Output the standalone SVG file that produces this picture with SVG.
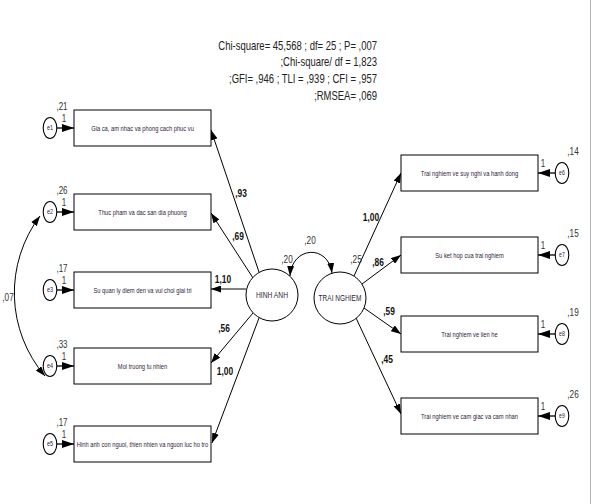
<svg xmlns="http://www.w3.org/2000/svg" width="592" height="504" viewBox="0 0 592 504">
<defs>
<style>
.bg{fill:#fff}
.box{fill:#fff;stroke:#000;stroke-width:1}
.lat{fill:#fff;stroke:#000;stroke-width:1}
.err{fill:#fff;stroke:#000;stroke-width:1.1}
.ln{fill:none;stroke:#000;stroke-width:1;marker-end:url(#ah)}
.eln{fill:none;stroke:#000;stroke-width:1.3;marker-end:url(#ah2)}
.cov{fill:none;stroke:#000;stroke-width:1;marker-start:url(#ah);marker-end:url(#ah)}
.bt{font-family:"Liberation Sans",Arial,sans-serif;font-size:7.3px;fill:#2e2238;text-anchor:middle}
.ct{font-family:"Liberation Sans",Arial,sans-serif;font-size:8.6px;fill:#2e2238;text-anchor:middle}
.et{font-family:"Liberation Sans",Arial,sans-serif;font-size:6.5px;fill:#2e2238;text-anchor:middle}
.vt{font-family:"Liberation Sans",Arial,sans-serif;font-size:10.5px;fill:#333;text-anchor:middle}
.st{font-family:"Liberation Sans",Arial,sans-serif;font-size:10px;fill:#333;text-anchor:middle}
.wt{font-family:"Liberation Sans",Arial,sans-serif;font-size:10.5px;font-weight:bold;fill:#111;text-anchor:middle}
.ht{font-family:"Liberation Sans",Arial,sans-serif;font-size:12px;fill:#222;text-anchor:end}
</style>
<marker id="ah" viewBox="0 0 10 7" refX="10" refY="3.5" markerWidth="10" markerHeight="7" markerUnits="userSpaceOnUse" orient="auto-start-reverse"><path d="M0,0 L10,3.5 L0,7 z" fill="#000"/></marker>
<marker id="ah2" viewBox="0 0 12 8" refX="12" refY="4" markerWidth="12" markerHeight="8" markerUnits="userSpaceOnUse" orient="auto"><path d="M0,0 L12,4 L0,8 z" fill="#000"/></marker>
</defs>
<rect class="bg" x="0" y="0" width="592" height="504"/>
<line x1="590.5" y1="0" x2="590.5" y2="504" stroke="#b4b4b4" stroke-width="1"/>

<g id="header">
<text class="ht" transform="translate(377,50) scale(0.79,1)">Chi-square= 45,568 ; df= 25 ; P= ,007</text>
<text class="ht" transform="translate(377,66) scale(0.79,1)">;Chi-square/ df = 1,823</text>
<text class="ht" transform="translate(377,83) scale(0.79,1)">;GFI= ,946 ; TLI = ,939 ; CFI = ,957</text>
<text class="ht" transform="translate(377,100) scale(0.79,1)">;RMSEA= ,069</text>
</g>

<g id="connectors">
<line class="ln" x1="259" y1="272" x2="211" y2="130"/>
<line class="ln" x1="253" y1="278" x2="211" y2="213"/>
<line class="ln" x1="246" y1="289" x2="211" y2="289"/>
<line class="ln" x1="253" y1="313" x2="211" y2="363"/>
<line class="ln" x1="259" y1="318" x2="212" y2="443"/>
<line class="ln" x1="354" y1="276" x2="401" y2="173"/>
<line class="ln" x1="362" y1="284" x2="401" y2="255"/>
<line class="ln" x1="364" y1="308" x2="401" y2="334"/>
<line class="ln" x1="356" y1="318" x2="401" y2="414"/>
<path class="cov" d="M290,276 C292,246 328,244 332,273"/>
<path class="cov" d="M45,376 A128,128 0 0 1 40,216"/>
<line class="eln" x1="56.5" y1="128" x2="74" y2="128"/>
<line class="eln" x1="56.5" y1="212" x2="74" y2="212"/>
<line class="eln" x1="56.5" y1="290" x2="74" y2="290"/>
<line class="eln" x1="56.5" y1="366" x2="74" y2="366"/>
<line class="eln" x1="56.5" y1="444" x2="74" y2="444"/>
<line class="eln" x1="555.5" y1="173" x2="538" y2="173"/>
<line class="eln" x1="555.5" y1="255" x2="538" y2="255"/>
<line class="eln" x1="555.5" y1="334" x2="538" y2="334"/>
<line class="eln" x1="555.5" y1="416" x2="538" y2="416"/>
<text class="wt" transform="translate(241,197) scale(0.8,1)">,93</text>
<text class="wt" transform="translate(238,240) scale(0.8,1)">,69</text>
<text class="wt" transform="translate(223,283) scale(0.8,1)">1,10</text>
<text class="wt" transform="translate(224,332) scale(0.8,1)">,56</text>
<text class="wt" transform="translate(225,375) scale(0.8,1)">1,00</text>
<text class="wt" transform="translate(371,221) scale(0.8,1)">1,00</text>
<text class="wt" transform="translate(378,266) scale(0.8,1)">,86</text>
<text class="wt" transform="translate(389,315) scale(0.8,1)">,59</text>
<text class="wt" transform="translate(387,363) scale(0.8,1)">,45</text>
<text class="vt" transform="translate(310,244) scale(0.78,1)">,20</text>
<text class="vt" transform="translate(8,301) scale(0.78,1)">,07</text>
<text class="st" transform="translate(64,121.5) scale(0.8,1)">1</text>
<text class="st" transform="translate(64,205.5) scale(0.8,1)">1</text>
<text class="st" transform="translate(64,283.5) scale(0.8,1)">1</text>
<text class="st" transform="translate(64,359.5) scale(0.8,1)">1</text>
<text class="st" transform="translate(64,437.5) scale(0.8,1)">1</text>
<text class="st" transform="translate(543,166.5) scale(0.8,1)">1</text>
<text class="st" transform="translate(543,248.5) scale(0.8,1)">1</text>
<text class="st" transform="translate(543,327.5) scale(0.8,1)">1</text>
<text class="st" transform="translate(543,409.5) scale(0.8,1)">1</text>
</g>

<g id="hinh-anh">
<circle class="lat" cx="272" cy="295" r="26"/>
<text class="ct" transform="translate(272,298) scale(0.78,1)">HINH ANH</text>
<text class="vt" transform="translate(287,263) scale(0.78,1)">,20</text>
</g>
<g id="trai-nghiem">
<circle class="lat" cx="340" cy="298" r="26"/>
<text class="ct" transform="translate(340,301) scale(0.76,1)">TRAI NGHIEM</text>
<text class="vt" transform="translate(356,263) scale(0.78,1)">,25</text>
</g>

<g id="box-gia-ca">
<rect class="box" x="74" y="110" width="137" height="36"/>
<text class="bt" transform="translate(142.5,130.5) scale(0.79,1)">Gia ca, am nhac va phong cach phuc vu</text>
</g>
<g id="box-thuc-pham">
<rect class="box" x="74" y="194" width="137" height="36"/>
<text class="bt" transform="translate(142.5,214.5) scale(0.79,1)">Thuc pham va dac san dia phuong</text>
</g>
<g id="box-su-quan-ly">
<rect class="box" x="74" y="272" width="137" height="36"/>
<text class="bt" transform="translate(142.5,292.5) scale(0.79,1)">Su quan ly diem den va vui choi giai tri</text>
</g>
<g id="box-moi-truong">
<rect class="box" x="74" y="348" width="137" height="36"/>
<text class="bt" transform="translate(142.5,368.5) scale(0.79,1)">Moi truong tu nhien</text>
</g>
<g id="box-hinh-anh-con-nguoi">
<rect class="box" x="74" y="426" width="137" height="36"/>
<text class="bt" transform="translate(142.5,446.5) scale(0.79,1)">Hinh anh con nguoi, thien nhien va nguon luc ho tro</text>
</g>

<g id="box-suy-nghi">
<rect class="box" x="401" y="155" width="137" height="36"/>
<text class="bt" transform="translate(469.5,175.5) scale(0.79,1)">Trai nghiem ve suy nghi va hanh dong</text>
</g>
<g id="box-ket-hop">
<rect class="box" x="401" y="237" width="137" height="36"/>
<text class="bt" transform="translate(469.5,257.5) scale(0.79,1)">Su ket hop cua trai nghiem</text>
</g>
<g id="box-lien-he">
<rect class="box" x="401" y="316" width="137" height="36"/>
<text class="bt" transform="translate(469.5,336.5) scale(0.79,1)">Trai nghiem ve lien he</text>
</g>
<g id="box-cam-giac">
<rect class="box" x="401" y="398" width="137" height="36"/>
<text class="bt" transform="translate(469.5,418.5) scale(0.79,1)">Trai nghiem ve cam giac va cam nhan</text>
</g>

<g id="e1"><ellipse class="err" cx="50" cy="128" rx="6.8" ry="10.5"/><text class="et" transform="translate(50,130.3) scale(0.85,1)">e1</text><text class="st" transform="translate(62,109.5) scale(0.8,1)">,21</text></g>
<g id="e2"><ellipse class="err" cx="50" cy="212" rx="6.8" ry="10.5"/><text class="et" transform="translate(50,214.3) scale(0.85,1)">e2</text><text class="st" transform="translate(62,193.5) scale(0.8,1)">,26</text></g>
<g id="e3"><ellipse class="err" cx="50" cy="290" rx="6.8" ry="10.5"/><text class="et" transform="translate(50,292.3) scale(0.85,1)">e3</text><text class="st" transform="translate(62,271.5) scale(0.8,1)">,17</text></g>
<g id="e4"><ellipse class="err" cx="50" cy="366" rx="6.8" ry="10.5"/><text class="et" transform="translate(50,368.3) scale(0.85,1)">e4</text><text class="st" transform="translate(62,347.5) scale(0.8,1)">,33</text></g>
<g id="e5"><ellipse class="err" cx="50" cy="444" rx="6.8" ry="10.5"/><text class="et" transform="translate(50,446.3) scale(0.85,1)">e5</text><text class="st" transform="translate(62,425.5) scale(0.8,1)">,17</text></g>
<g id="e6"><ellipse class="err" cx="562" cy="173" rx="6.8" ry="10.5"/><text class="et" transform="translate(562,175.3) scale(0.8,1)">e6</text><text class="vt" transform="translate(573,155) scale(0.78,1)">,14</text></g>
<g id="e7"><ellipse class="err" cx="562" cy="255" rx="6.8" ry="10.5"/><text class="et" transform="translate(562,257.3) scale(0.8,1)">e7</text><text class="vt" transform="translate(573,237) scale(0.78,1)">,15</text></g>
<g id="e8"><ellipse class="err" cx="562" cy="334" rx="6.8" ry="10.5"/><text class="et" transform="translate(562,336.3) scale(0.8,1)">e8</text><text class="vt" transform="translate(573,316) scale(0.78,1)">,19</text></g>
<g id="e9"><ellipse class="err" cx="562" cy="416" rx="6.8" ry="10.5"/><text class="et" transform="translate(562,418.3) scale(0.8,1)">e9</text><text class="vt" transform="translate(573,398) scale(0.78,1)">,26</text></g>
</svg>
